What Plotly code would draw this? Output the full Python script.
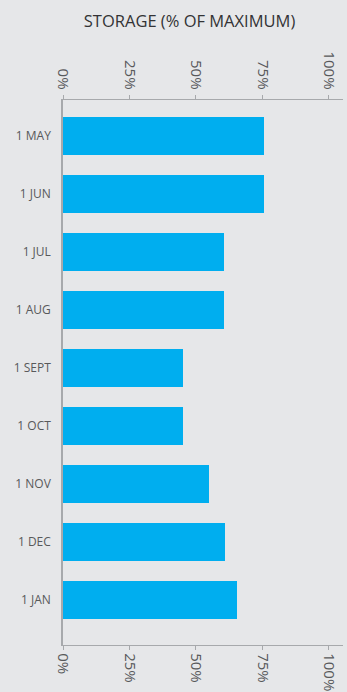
import plotly.graph_objects as go

categories = ["1 MAY", "1 JUN", "1 JUL", "1 AUG", "1 SEPT", "1 OCT", "1 NOV", "1 DEC", "1 JAN"]
storage_pct = [75.6, 75.6, 60.5, 60.5, 45.1, 45.1, 54.9, 60.9, 65.3]
tick_vals = [0, 25, 50, 75, 100]
tick_text = ["0%", "25%", "50%", "75%", "100%"]

bg = "#e6e7e9"
axis_col = "#a7a9ac"
text_col = "#58595b"

fig = go.Figure()
fig.add_trace(go.Bar(
    y=categories, x=storage_pct, orientation="h",
    marker=dict(color="#00aeef", line=dict(width=0)),
    width=0.655, xaxis="x", yaxis="y", showlegend=False, hoverinfo="x+y",
))
fig.add_trace(go.Bar(
    y=categories, x=[None] * len(categories), orientation="h",
    xaxis="x2", yaxis="y", showlegend=False, hoverinfo="skip",
))

common_x = dict(
    range=[0, 105.3], tickvals=tick_vals, ticktext=tick_text, tickangle=90,
    showgrid=False, zeroline=False, showline=True, linecolor=axis_col, linewidth=1.3,
    ticks="outside", ticklen=4, tickcolor=axis_col, tickwidth=1,
    tickfont=dict(family="Open Sans", size=15, color=text_col),
    fixedrange=True, automargin=False,
)

fig.update_layout(
    width=347, height=692,
    paper_bgcolor=bg, plot_bgcolor=bg,
    margin=dict(l=63, r=4, t=100, b=47, autoexpand=False),
    bargap=0,
    title=dict(text="STORAGE (% OF MAXIMUM)", xref="paper", x=0.452, xanchor="center",
               y=0.969, yanchor="middle",
               font=dict(family="Open Sans", size=16.5, color="#333335")),
    xaxis=dict(side="bottom", **common_x),
    xaxis2=dict(side="top", overlaying="x", matches="x", **common_x),
    yaxis=dict(
        categoryorder="array", categoryarray=categories,
        range=[8.78, -0.62], showgrid=False, zeroline=False,
        showline=True, linecolor=axis_col, linewidth=1.5,
        ticks="", ticklabelstandoff=8, automargin=False,
        tickfont=dict(family="Open Sans", size=12, color=text_col),
        fixedrange=True,
    ),
)

fig.write_html("out.html")
